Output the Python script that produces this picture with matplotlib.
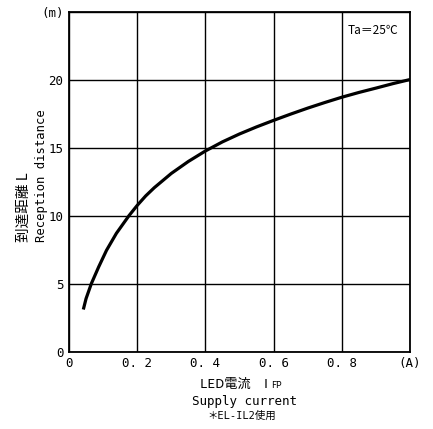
import matplotlib
matplotlib.use("Agg")
import matplotlib.pyplot as plt

# data
current = [0.042, 0.05, 0.0655, 0.087, 0.11, 0.139, 0.176, 0.2, 0.225, 0.25, 0.3, 0.35, 0.4,
           0.45, 0.5, 0.55, 0.6, 0.65, 0.7, 0.75, 0.8, 0.85, 0.9, 0.95, 1.0]
distance = [3.1, 3.9, 5.0, 6.23, 7.45, 8.7, 10.0, 10.75, 11.45, 12.05, 13.1, 13.98, 14.75,
            15.42, 16.0, 16.52, 17.0, 17.46, 17.9, 18.31, 18.7, 19.05, 19.37, 19.7, 20.0]

x_ticks = [0, 0.2, 0.4, 0.6, 0.8, 1.0]
x_tick_labels = ["0", "0. 2", "0. 4", "0. 6", "0. 8", "(A)"]
y_ticks = [0, 5, 10, 15, 20, 25]
y_tick_labels = ["0", "5", "10", "15", "20", "(m)"]

MONO = ["DejaVu Sans Mono", "Noto Sans CJK JP"]
CJK = ["Noto Sans CJK JP", "DejaVu Sans"]

W, H = 433, 429
fig = plt.figure(figsize=(W / 100, H / 100), dpi=100)
ax = fig.add_axes([69 / W, 1 - 351.7 / H, (410 - 69) / W, (351.7 - 11.5) / H])

ax.plot(current, distance, color="black", lw=2.3, solid_capstyle="butt",
        solid_joinstyle="round")

ax.set_xlim(0, 1.0)
ax.set_ylim(0, 25)
ax.set_xticks(x_ticks)
ax.set_xticklabels(x_tick_labels, family=MONO, fontsize=9)
ax.set_yticks(y_ticks)
ax.set_yticklabels(y_tick_labels, family=MONO, fontsize=9)
ax.tick_params(length=0, pad=4)
ax.grid(True, color="black", lw=1.0)
ax.set_axisbelow(True)
for s in ax.spines.values():
    s.set_color("black")
    s.set_linewidth(1.3)

ax.text(373 / W, 1 - 31 / H, "Ta＝25℃", transform=fig.transFigure, family=CJK,
        fontsize=8.5, ha="center", va="center")

# y label (two rotated lines)
fig.text(24 / W, 1 - 242 / H, "到達距離 L", rotation=90, family=CJK, fontsize=10.5,
         ha="center", va="bottom")
fig.text(42 / W, 1 - 242 / H, "Reception distance", rotation=90, family=MONO, fontsize=8.8,
         ha="center", va="bottom")

# x label lines
fig.text(268 / W, 1 - 384 / H, "LED電流　I", family=CJK, fontsize=9.5, ha="right", va="center")
fig.text(271 / W, 1 - 386 / H, "FP", family=CJK, fontsize=6.5, ha="left", va="center")
fig.text(244 / W, 1 - 401 / H, "Supply current", family=MONO, fontsize=9, ha="center", va="center")
fig.text(242 / W, 1 - 416 / H, "＊EL-IL2使用", family=MONO, fontsize=7.5, ha="center", va="center")

fig.savefig("out.png", dpi=100)
